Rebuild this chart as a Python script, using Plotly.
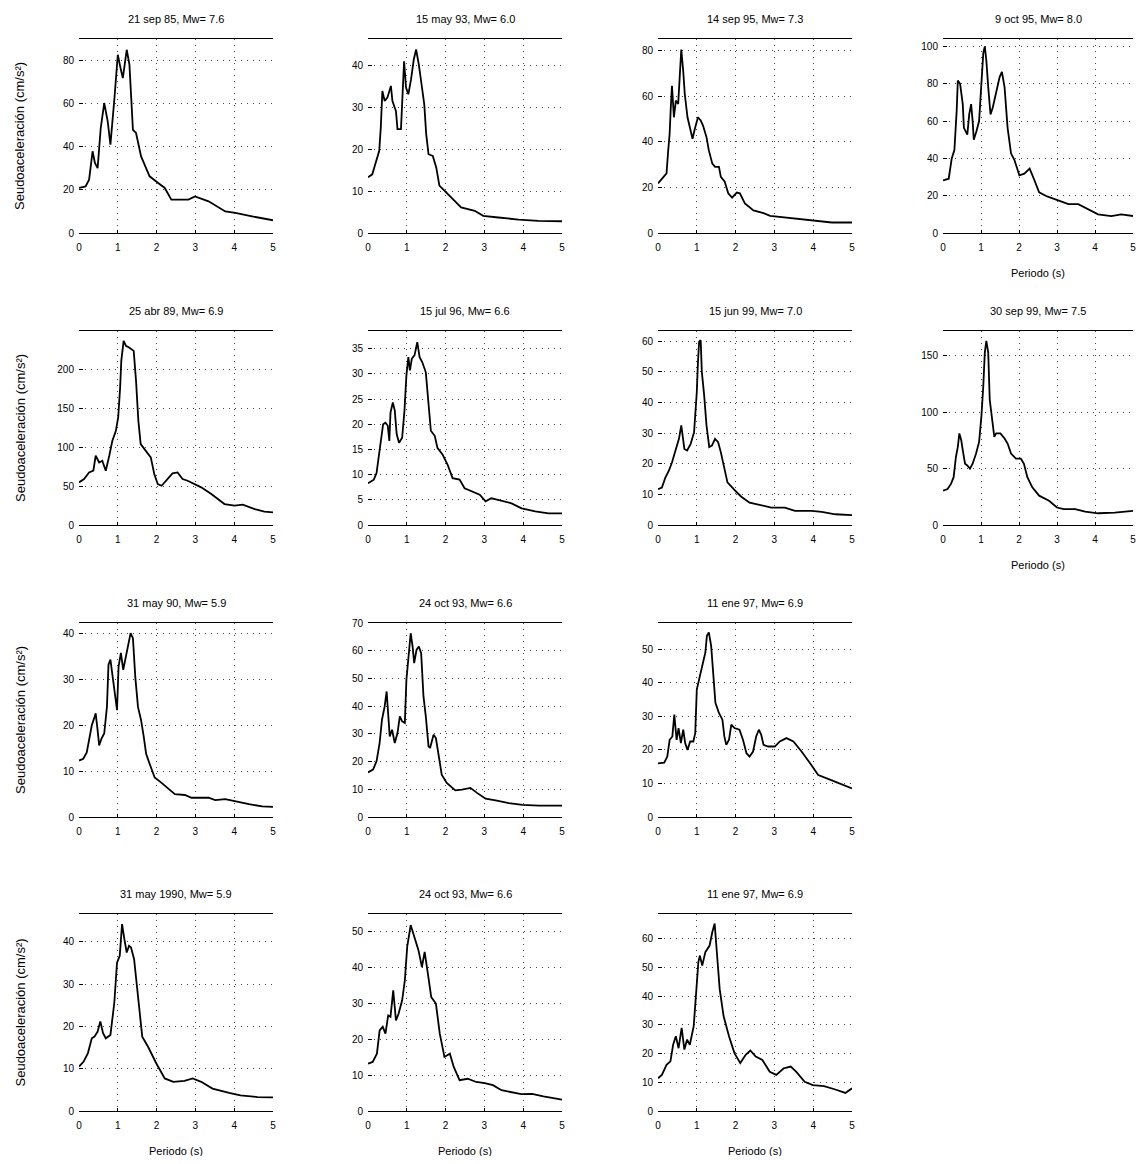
import plotly.graph_objects as go

# ---------------- data ----------------
titulos = ["21 sep 85, Mw= 7.6", "15 may 93, Mw= 6.0", "14 sep 95, Mw= 7.3", "9 oct 95, Mw= 8.0",
           "25 abr 89, Mw= 6.9", "15 jul 96, Mw= 6.6", "15 jun 99, Mw= 7.0", "30 sep 99, Mw= 7.5",
           "31 may 90, Mw= 5.9", "24 oct 93, Mw= 6.6", "11 ene 97, Mw= 6.9",
           "31 may 1990, Mw= 5.9", "24 oct 93, Mw= 6.6", "11 ene 97, Mw= 6.9"]

periodo_1 = [0, 0.17, 0.26, 0.35, 0.41, 0.48, 0.56, 0.65, 0.74, 0.81, 0.91, 1.0, 1.08, 1.13, 1.23, 1.3, 1.39, 1.47, 1.6, 1.82, 2.04, 2.21, 2.38, 2.82, 2.99, 3.34, 3.77, 4.03, 4.46, 5.0]
sa_1 = [20.9, 21.6, 24.7, 37.9, 32.5, 30.1, 48.7, 60.3, 51.8, 41.0, 61.8, 82.7, 75.7, 71.9, 85.0, 78.1, 47.9, 46.4, 35.5, 26.3, 23.2, 20.9, 15.5, 15.5, 17.0, 14.7, 10.0, 9.3, 7.7, 5.9]

periodo_2 = [0, 0.11, 0.16, 0.22, 0.29, 0.33, 0.37, 0.43, 0.5, 0.59, 0.63, 0.72, 0.76, 0.85, 0.89, 0.93, 0.98, 1.04, 1.11, 1.18, 1.24, 1.31, 1.38, 1.45, 1.5, 1.56, 1.67, 1.76, 1.84, 1.97, 2.15, 2.4, 2.75, 2.97, 3.36, 3.88, 4.39, 5.0]
sa_2 = [13.3, 14.0, 15.6, 17.2, 19.6, 25.2, 33.9, 31.5, 32.3, 35.1, 31.5, 29.1, 24.8, 24.8, 33.9, 41.0, 34.7, 33.1, 36.7, 41.4, 43.8, 40.2, 35.5, 30.7, 23.6, 18.8, 18.4, 15.6, 11.3, 10.1, 8.5, 6.1, 5.3, 4.1, 3.7, 3.2, 2.9, 2.8]

periodo_3 = [0, 0.13, 0.22, 0.26, 0.3, 0.33, 0.36, 0.41, 0.46, 0.52, 0.56, 0.6, 0.65, 0.69, 0.76, 0.82, 0.89, 0.95, 1.03, 1.1, 1.16, 1.25, 1.31, 1.4, 1.47, 1.57, 1.62, 1.72, 1.81, 1.91, 2.03, 2.11, 2.24, 2.46, 2.72, 2.89, 3.19, 3.62, 4.05, 4.48, 5.0]
sa_3 = [21.7, 24.6, 26.1, 35.5, 43.5, 55.1, 64.5, 50.7, 58.0, 56.5, 66.7, 80.4, 71.0, 60.9, 50.7, 46.4, 41.3, 45.7, 50.7, 49.3, 47.1, 42.0, 36.2, 30.4, 29.0, 29.0, 24.6, 22.5, 17.4, 15.5, 17.7, 17.4, 13.0, 9.9, 8.7, 7.5, 7.0, 6.2, 5.5, 4.6, 4.6]

periodo_4 = [0, 0.15, 0.23, 0.3, 0.36, 0.39, 0.45, 0.52, 0.55, 0.64, 0.69, 0.74, 0.78, 0.81, 0.88, 0.95, 1.01, 1.06, 1.1, 1.14, 1.19, 1.25, 1.31, 1.4, 1.49, 1.55, 1.62, 1.7, 1.79, 1.88, 2.01, 2.14, 2.28, 2.39, 2.53, 2.74, 3.05, 3.3, 3.56, 3.82, 4.08, 4.43, 4.69, 5.0]
sa_4 = [28.2, 29.1, 40.0, 44.5, 65.5, 81.8, 80.0, 69.1, 56.4, 52.7, 63.6, 69.1, 60.0, 50.0, 54.5, 60.0, 80.0, 96.4, 100.0, 92.7, 78.2, 63.6, 67.3, 76.4, 83.6, 86.4, 78.2, 56.4, 42.7, 39.1, 30.9, 31.8, 34.5, 29.1, 21.8, 19.6, 17.3, 15.5, 15.5, 12.7, 10.0, 9.1, 10.0, 9.1]

periodo_5 = [0, 0.13, 0.26, 0.37, 0.43, 0.52, 0.6, 0.69, 0.78, 0.86, 0.95, 1.01, 1.06, 1.09, 1.15, 1.21, 1.29, 1.41, 1.47, 1.53, 1.59, 1.72, 1.85, 1.94, 2.03, 2.13, 2.28, 2.41, 2.54, 2.67, 2.8, 3.15, 3.41, 3.75, 4.01, 4.22, 4.53, 4.78, 5.0]
sa_5 = [54.7, 59.0, 67.5, 69.7, 88.9, 80.3, 82.5, 69.7, 88.9, 108.1, 120.9, 138.0, 176.5, 210.7, 236.3, 229.9, 227.8, 223.5, 185.0, 133.8, 103.8, 95.3, 86.8, 65.4, 52.6, 50.4, 59.0, 66.2, 67.5, 59.0, 56.8, 48.3, 39.7, 26.9, 24.8, 26.1, 20.5, 17.1, 16.2]

periodo_6 = [0, 0.15, 0.22, 0.28, 0.34, 0.39, 0.45, 0.51, 0.55, 0.58, 0.64, 0.69, 0.74, 0.8, 0.88, 0.94, 0.99, 1.04, 1.08, 1.13, 1.2, 1.27, 1.33, 1.4, 1.49, 1.55, 1.62, 1.72, 1.79, 1.92, 2.05, 2.18, 2.36, 2.49, 2.66, 2.88, 3.03, 3.18, 3.35, 3.7, 3.96, 4.31, 4.65, 5.0]
sa_6 = [8.3, 9.0, 10.3, 13.7, 17.3, 20.0, 20.3, 19.7, 16.7, 22.3, 24.3, 22.7, 18.0, 16.3, 17.3, 22.7, 29.7, 33.3, 30.7, 33.0, 33.7, 36.3, 33.3, 32.3, 30.3, 25.3, 18.7, 17.7, 15.3, 14.0, 12.0, 9.3, 9.0, 7.3, 6.7, 6.0, 4.7, 5.3, 5.0, 4.3, 3.3, 2.7, 2.3, 2.3]

periodo_7 = [0, 0.1, 0.19, 0.28, 0.36, 0.45, 0.54, 0.6, 0.64, 0.68, 0.75, 0.84, 0.93, 1.0, 1.03, 1.06, 1.1, 1.13, 1.19, 1.25, 1.32, 1.39, 1.47, 1.55, 1.62, 1.71, 1.79, 1.97, 2.14, 2.36, 2.66, 2.92, 3.27, 3.53, 3.96, 4.22, 4.57, 5.0]
sa_7 = [11.7, 12.2, 15.5, 17.7, 20.4, 24.3, 28.1, 32.5, 29.2, 24.8, 24.3, 26.4, 30.3, 43.4, 53.2, 59.8, 60.3, 49.9, 42.3, 32.5, 25.4, 25.9, 28.1, 27.0, 23.7, 18.3, 13.9, 11.5, 9.3, 7.3, 6.4, 5.7, 5.7, 4.6, 4.6, 4.3, 3.5, 3.2]

periodo_8 = [0, 0.12, 0.21, 0.28, 0.34, 0.39, 0.43, 0.48, 0.52, 0.58, 0.64, 0.71, 0.78, 0.87, 0.95, 1.01, 1.06, 1.1, 1.14, 1.19, 1.23, 1.29, 1.35, 1.4, 1.51, 1.62, 1.7, 1.79, 1.92, 2.05, 2.13, 2.22, 2.35, 2.53, 2.79, 3.0, 3.18, 3.48, 3.74, 4.08, 4.52, 5.0]
sa_8 = [30.4, 31.9, 36.4, 42.4, 60.3, 69.3, 81.2, 75.2, 66.3, 54.3, 52.8, 49.9, 54.3, 63.3, 73.7, 96.1, 123.0, 152.8, 163.3, 152.8, 111.0, 93.1, 78.2, 81.2, 81.2, 76.7, 72.2, 63.3, 58.8, 58.8, 54.3, 42.4, 33.4, 26.0, 21.5, 15.5, 14.0, 14.0, 11.9, 10.4, 11.0, 12.5]

periodo_9 = [0, 0.11, 0.2, 0.26, 0.33, 0.39, 0.43, 0.48, 0.52, 0.58, 0.65, 0.72, 0.76, 0.81, 0.87, 0.93, 0.98, 1.02, 1.08, 1.14, 1.2, 1.27, 1.33, 1.39, 1.45, 1.52, 1.6, 1.67, 1.73, 1.82, 1.95, 2.12, 2.3, 2.47, 2.73, 2.9, 3.34, 3.51, 3.77, 4.03, 4.38, 4.72, 5.0]
sa_9 = [12.3, 12.7, 14.1, 16.7, 20.0, 21.5, 22.6, 18.9, 15.6, 17.1, 18.2, 24.0, 33.2, 34.3, 30.3, 26.2, 23.3, 32.8, 35.8, 32.1, 34.7, 37.2, 40.1, 39.0, 30.6, 24.0, 21.1, 17.4, 13.8, 11.6, 8.6, 7.5, 6.3, 5.0, 4.8, 4.2, 4.2, 3.7, 3.9, 3.4, 2.8, 2.3, 2.2]

periodo_10 = [0, 0.13, 0.22, 0.3, 0.36, 0.43, 0.48, 0.52, 0.56, 0.62, 0.69, 0.76, 0.82, 0.88, 0.95, 0.99, 1.06, 1.1, 1.15, 1.19, 1.25, 1.31, 1.37, 1.43, 1.49, 1.56, 1.6, 1.69, 1.75, 1.82, 1.9, 2.03, 2.25, 2.42, 2.64, 2.81, 3.03, 3.29, 3.63, 3.98, 4.41, 5.0]
sa_10 = [16.1, 17.1, 20.1, 26.7, 35.1, 39.9, 45.3, 37.5, 29.1, 31.5, 26.7, 30.3, 36.3, 34.5, 33.9, 49.5, 60.3, 66.3, 61.5, 55.5, 60.3, 61.5, 59.1, 43.5, 36.3, 25.5, 24.9, 29.7, 28.5, 21.9, 15.3, 12.3, 9.6, 9.9, 10.5, 8.7, 6.6, 6.0, 5.0, 4.4, 4.1, 4.1]

periodo_11 = [0, 0.16, 0.24, 0.3, 0.37, 0.42, 0.48, 0.53, 0.59, 0.65, 0.7, 0.76, 0.83, 0.91, 0.96, 1.0, 1.06, 1.15, 1.22, 1.26, 1.31, 1.37, 1.43, 1.48, 1.57, 1.66, 1.71, 1.76, 1.83, 1.89, 1.97, 2.1, 2.19, 2.28, 2.36, 2.45, 2.53, 2.6, 2.66, 2.72, 2.84, 3.01, 3.14, 3.31, 3.49, 3.7, 3.92, 4.13, 4.35, 4.7, 5.0]
sa_11 = [16.0, 16.2, 18.0, 23.0, 24.0, 30.5, 23.0, 26.5, 22.0, 26.0, 22.0, 20.0, 22.5, 22.5, 25.0, 38.0, 41.0, 45.0, 49.0, 54.0, 55.0, 51.0, 43.0, 34.0, 31.0, 29.0, 24.0, 21.5, 23.0, 27.5, 26.5, 26.0, 23.0, 19.0, 18.0, 19.5, 24.0, 26.0, 24.5, 21.5, 21.0, 21.0, 22.5, 23.5, 22.5, 19.5, 16.0, 12.5, 11.5, 10.0, 8.5]

periodo_12 = [0, 0.12, 0.23, 0.33, 0.4, 0.48, 0.55, 0.62, 0.69, 0.81, 0.91, 0.98, 1.05, 1.11, 1.17, 1.23, 1.29, 1.34, 1.42, 1.53, 1.63, 1.78, 1.99, 2.21, 2.43, 2.72, 2.93, 3.15, 3.44, 3.87, 4.16, 4.6, 5.0]
sa_12 = [10.5, 11.7, 13.7, 17.2, 17.6, 18.8, 21.2, 18.4, 17.2, 18.0, 25.6, 35.1, 36.7, 44.2, 40.6, 37.5, 39.1, 38.7, 35.9, 25.6, 17.6, 15.2, 11.3, 7.7, 6.9, 7.1, 7.7, 6.9, 5.3, 4.3, 3.7, 3.3, 3.2]

periodo_13 = [0, 0.12, 0.23, 0.3, 0.38, 0.45, 0.52, 0.58, 0.65, 0.72, 0.79, 0.88, 0.95, 1.01, 1.1, 1.2, 1.3, 1.39, 1.46, 1.53, 1.63, 1.75, 1.85, 1.97, 2.11, 2.21, 2.36, 2.57, 2.79, 3.01, 3.22, 3.44, 3.66, 3.95, 4.23, 4.52, 5.0]
sa_13 = [13.2, 13.7, 16.0, 22.5, 23.5, 21.6, 26.7, 26.3, 33.7, 25.3, 27.2, 30.9, 36.5, 45.8, 51.9, 48.6, 44.9, 40.2, 44.4, 39.3, 31.8, 30.0, 21.6, 15.1, 16.0, 12.3, 8.6, 9.0, 8.1, 7.8, 7.2, 5.8, 5.3, 4.7, 4.8, 4.1, 3.2]

periodo_14 = [0, 0.1, 0.22, 0.32, 0.39, 0.46, 0.53, 0.61, 0.68, 0.75, 0.82, 0.92, 0.99, 1.04, 1.08, 1.14, 1.22, 1.33, 1.4, 1.46, 1.51, 1.59, 1.69, 1.83, 1.97, 2.12, 2.26, 2.38, 2.52, 2.69, 2.88, 3.05, 3.24, 3.42, 3.56, 3.78, 3.99, 4.28, 4.57, 4.83, 5.0]
sa_14 = [11.4, 12.6, 16.1, 17.3, 23.1, 26.1, 21.9, 29.0, 21.4, 24.9, 23.1, 29.6, 42.5, 51.9, 54.2, 50.7, 55.4, 57.7, 62.4, 65.4, 56.6, 42.5, 33.1, 26.1, 20.2, 16.7, 19.6, 21.1, 19.0, 17.8, 13.7, 12.6, 14.9, 15.5, 13.7, 10.2, 9.0, 8.7, 7.5, 6.3, 7.9]

# y-axis maximum and tick step for each panel
y_max = [90, 46.3, 85, 104, 249, 38.5, 63.3, 172, 42.3, 70, 57.8, 46.6, 55, 68.7]
y_step = [20, 10, 20, 20, 50, 5, 10, 50, 10, 10, 10, 10, 10, 10]

periodos = [periodo_1, periodo_2, periodo_3, periodo_4, periodo_5, periodo_6, periodo_7,
            periodo_8, periodo_9, periodo_10, periodo_11, periodo_12, periodo_13, periodo_14]
seudoac = [sa_1, sa_2, sa_3, sa_4, sa_5, sa_6, sa_7, sa_8, sa_9, sa_10, sa_11, sa_12, sa_13, sa_14]

# ---------------- layout ----------------
# the page has an 8px body margin; the figure is placed at (8, 8) on screen
OFF = 8
W, H = 1144 - 2 * OFF, 1164 - 2 * OFF
pos = [(r, c) for r in range(2) for c in range(4)] + [(r, c) for r in range(2, 4) for c in range(3)]
col_px = [(79, 273), (368, 562), (658, 852), (943, 1133)]   # screen pixels
row_px = [(39, 233), (331, 525), (623, 817), (914, 1111)]

fig = go.Figure()
font = "Liberation Sans"
annotations = []


def fx(px):
    return (px - OFF) / W


def fy(py):
    return 1 - (py - OFF) / H


for i, (r, c) in enumerate(pos):
    k = i + 1
    xa = "x" if k == 1 else f"x{k}"
    ya = "y" if k == 1 else f"y{k}"
    fig.add_trace(go.Scatter(x=periodos[i], y=seudoac[i], mode="lines",
                             line=dict(color="black", width=1.8),
                             xaxis=xa, yaxis=ya, showlegend=False))
    x0, x1 = col_px[c]
    t0, b0 = row_px[r]
    fig.layout[f"xaxis{k if k > 1 else ''}"] = dict(
        domain=[fx(x0), fx(x1)], range=[0, 5], dtick=1, anchor=ya, automargin=False,
        ticklabeloverflow="allow", ticklabelstandoff=5,
        showline=True, mirror=True, linecolor="black", linewidth=1,
        showgrid=True, gridcolor="#444444", griddash="1px,5px", gridwidth=1,
        ticks="inside", ticklen=3, tickcolor="black", zeroline=False,
        tickfont=dict(size=10, family=font, color="black"))
    fig.layout[f"yaxis{k if k > 1 else ''}"] = dict(
        domain=[fy(b0), fy(t0)], range=[0, y_max[i]], dtick=y_step[i], anchor=xa, automargin=False,
        ticklabelstandoff=4,
        showline=False, showgrid=True, gridcolor="#444444", griddash="1px,5px", gridwidth=1,
        ticks="inside", ticklen=4, tickcolor="black", zeroline=False,
        tickfont=dict(size=10, family=font, color="black"))
    annotations.append(dict(text=titulos[i], x=fx((x0 + x1) / 2), y=fy(t0 - 20),
                            xref="paper", yref="paper", showarrow=False,
                            xanchor="center", yanchor="middle",
                            font=dict(size=11, family=font, color="black")))
    if (r, c) in [(0, 3), (1, 3), (3, 0), (3, 1), (3, 2)]:
        annotations.append(dict(text="Periodo (s)", x=fx((x0 + x1) / 2), y=fy(b0 + 40),
                                xref="paper", yref="paper", showarrow=False,
                                xanchor="center", yanchor="middle",
                                font=dict(size=11, family=font, color="black")))
    if c == 0:
        annotations.append(dict(text="Seudoaceleración (cm/s²)", x=fx(20), y=fy((t0 + b0) / 2),
                                xref="paper", yref="paper", showarrow=False, textangle=-90,
                                xanchor="center", yanchor="middle",
                                font=dict(size=13, family=font, color="black")))

fig.update_layout(width=W, height=H, margin=dict(l=0, r=0, t=0, b=0, autoexpand=False),
                  paper_bgcolor="white", plot_bgcolor="white",
                  annotations=annotations)
fig.write_html("out.html")
